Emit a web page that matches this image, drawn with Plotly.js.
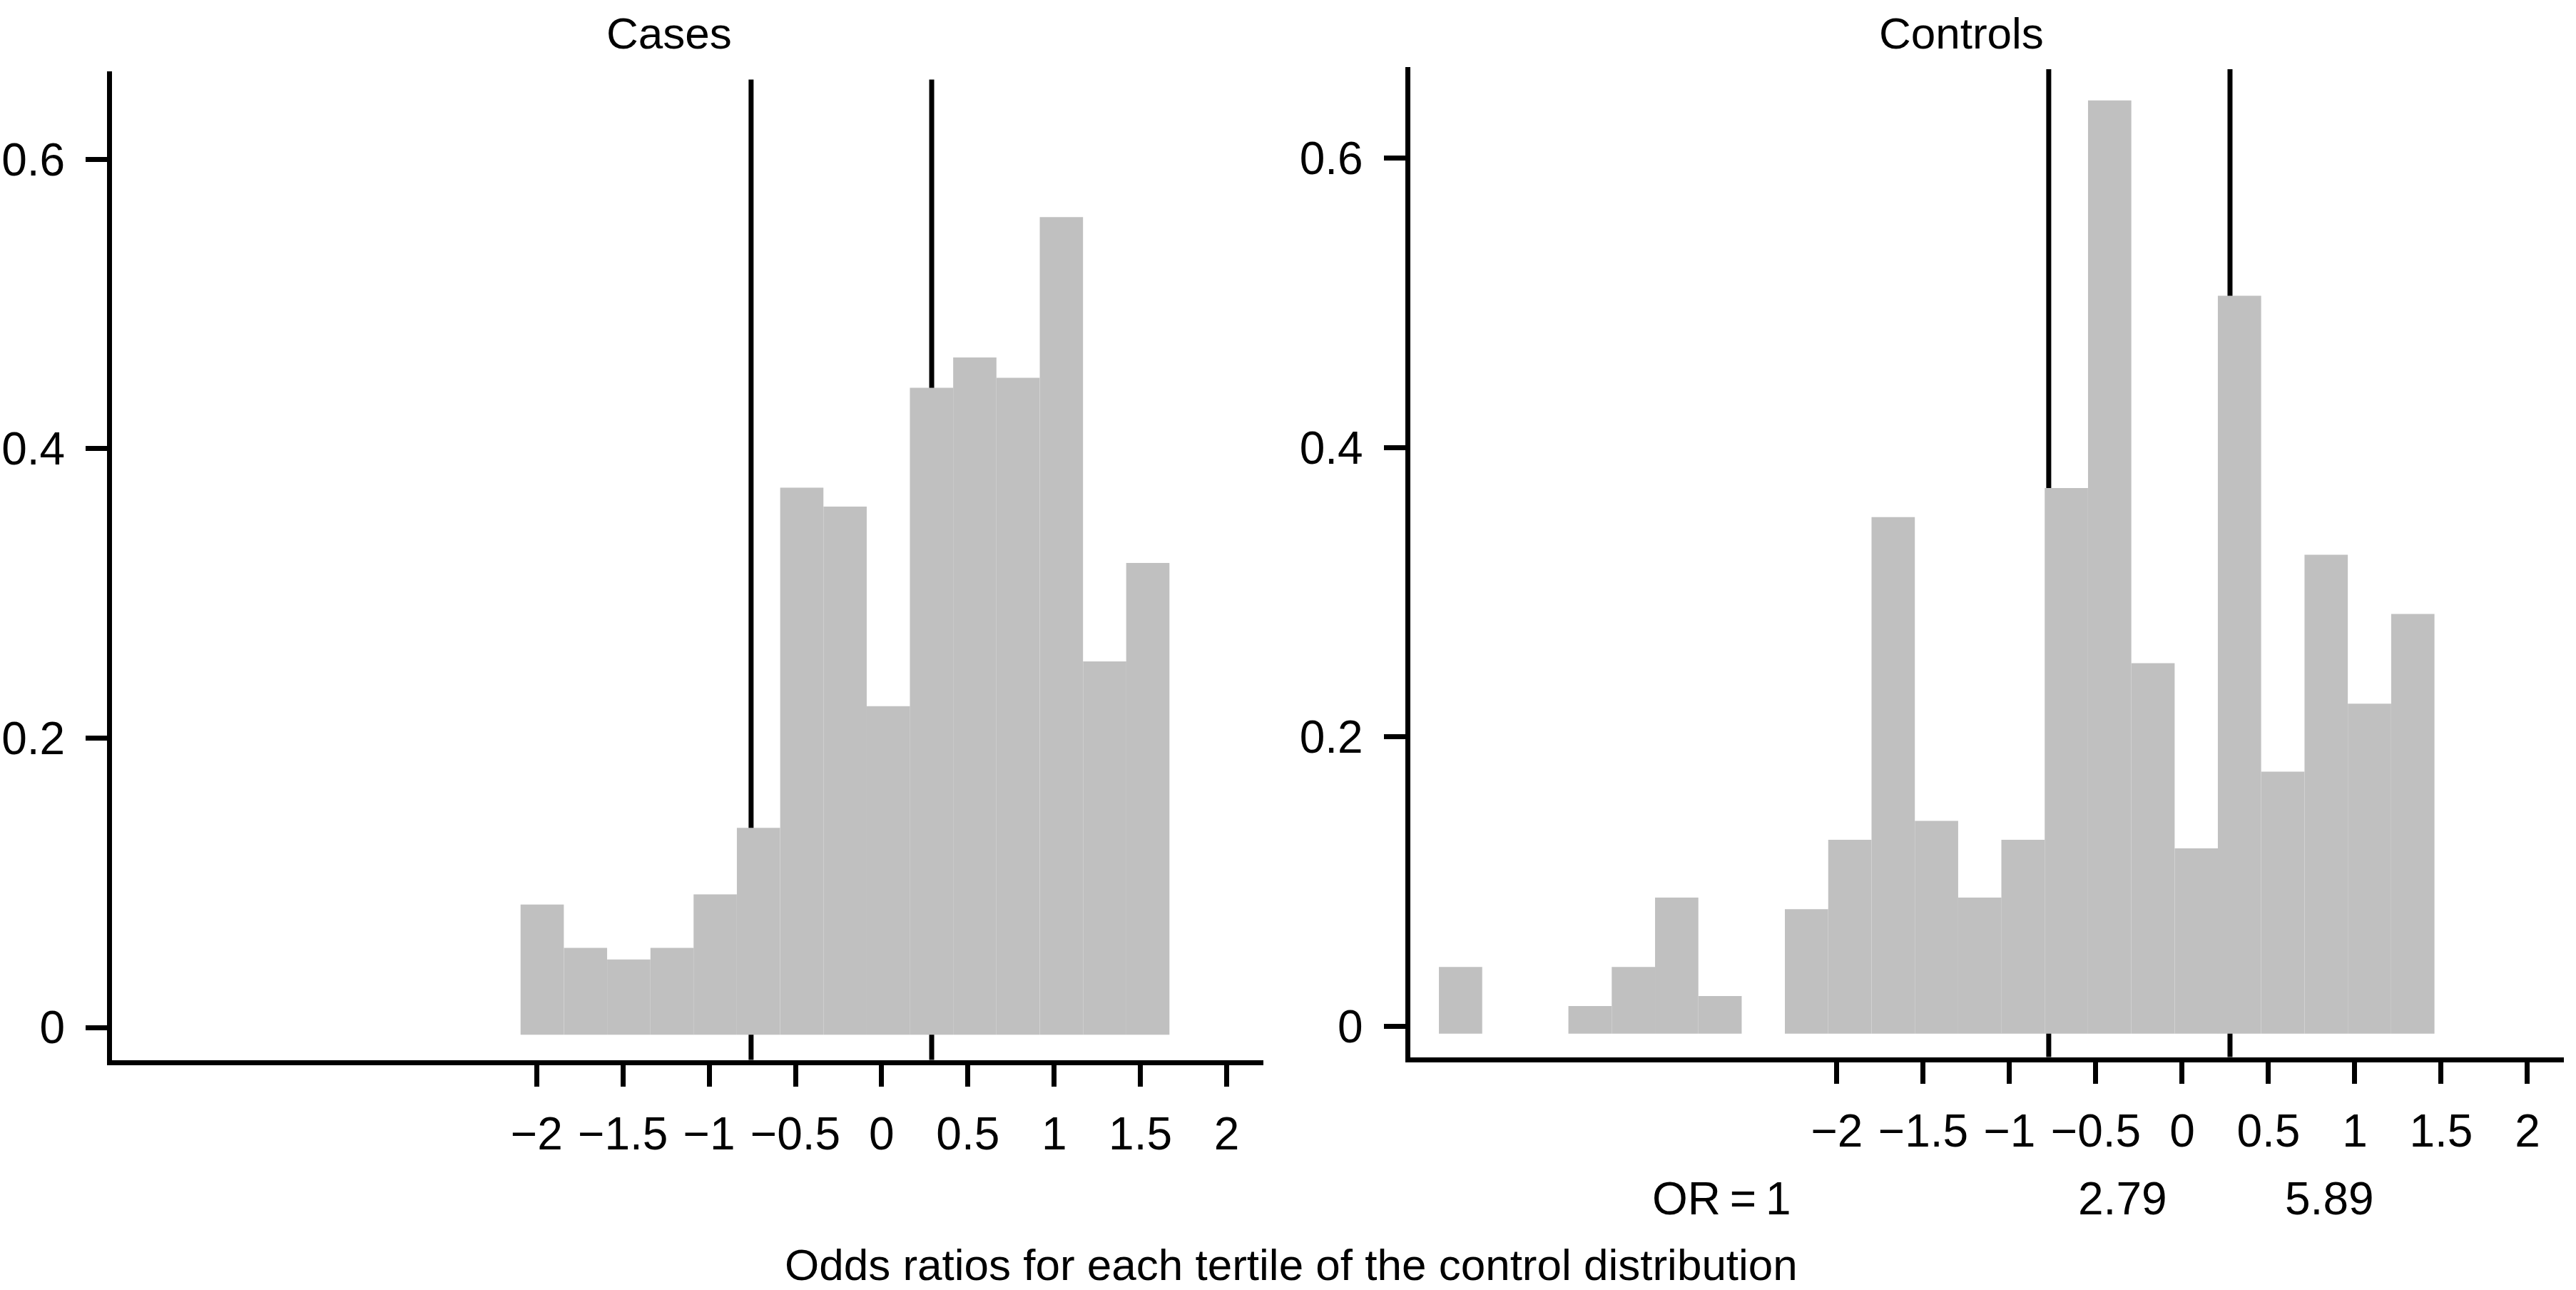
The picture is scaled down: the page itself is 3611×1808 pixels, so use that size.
<!DOCTYPE html>
<html>
<head>
<meta charset="utf-8">
<script src="https://cdn.plot.ly/plotly-3.0.1.min.js"></script>
<style>html,body{margin:0;padding:0;background:#fff;}#chart{width:3611px;height:1808px;}</style>
</head>
<body>
<div id="chart"></div>
<script>
// ---- data ----
const casesBinCentres = [-1.968, -1.717, -1.466, -1.215, -0.965, -0.714, -0.463, -0.212, 0.039, 0.289, 0.540, 0.791, 1.042, 1.293, 1.543];
const casesDensity    = [0.085, 0.055, 0.047, 0.055, 0.092, 0.138, 0.373, 0.360, 0.222, 0.442, 0.463, 0.449, 0.560, 0.253, 0.321];

const controlsBinCentres = [-4.180, -3.430, -3.179, -2.928, -2.677, -2.176, -1.925, -1.674, -1.423, -1.172, -0.922, -0.671, -0.420, -0.169, 0.082, 0.332, 0.583, 0.834, 1.085, 1.336];
const controlsDensity    = [0.041, 0.014, 0.041, 0.089, 0.021, 0.081, 0.129, 0.352, 0.142, 0.089, 0.129, 0.372, 0.640, 0.251, 0.123, 0.505, 0.176, 0.326, 0.223, 0.285];

const casesCuts    = [-0.757, 0.290];
const controlsCuts = [-0.773, 0.277];

const xTickVals   = [-2, -1.5, -1, -0.5, 0, 0.5, 1, 1.5, 2];
const xTickText   = ['\u22122', '\u22121.5', '\u22121', '\u22120.5', '0', '0.5', '1', '1.5', '2'];
const yTickVals   = [0, 0.2, 0.4, 0.6];
const yTickText   = ['0', '0.2', '0.4', '0.6'];

const panelTitles = ['Cases', 'Controls'];
const orLabels    = ['OR\u2009=\u20091', '2.79', '5.89'];
const orLabelX    = [-2.669, -0.345, 0.855];
const xTitle      = 'Odds ratios for each tertile of the control distribution';

// ---- styling ----
const binWidth = 0.2508;
const barBase = -0.005;
const FONT = '"Liberation Sans", Arial, Helvetica, sans-serif';
const FS = 62;
const TFS = 64;
const W = 3611, H = 1808;

function barTrace(x, y, xa, ya) {
  return {
    type: 'bar', x: x, y: y.map(v => v - barBase), base: barBase,
    width: binWidth, xaxis: xa, yaxis: ya,
    marker: {color: '#c0c0c0', line: {width: 0}},
    hovertemplate: '%{x}: %{customdata}<extra></extra>', customdata: y,
    showlegend: false
  };
}

function xAxis(domain, range, anchor) {
  return {
    domain: domain, range: range, anchor: anchor,
    tickmode: 'array', tickvals: xTickVals, ticktext: xTickText,
    ticks: 'outside', ticklen: 30, tickwidth: 7, tickcolor: '#000',
    showline: true, linewidth: 7, linecolor: '#000',
    showgrid: false, zeroline: false,
    tickfont: {family: FONT, size: TFS, color: '#000'},
    ticklabelstandoff: 12, fixedrange: true
  };
}
function yAxis(domain, range, anchor) {
  return {
    domain: domain, range: range, anchor: anchor,
    tickmode: 'array', tickvals: yTickVals, ticktext: yTickText,
    ticks: 'outside', ticklen: 30, tickwidth: 7, tickcolor: '#000',
    showline: true, linewidth: 7, linecolor: '#000',
    showgrid: false, zeroline: false,
    tickfont: {family: FONT, size: TFS, color: '#000'},
    ticklabelstandoff: 16, fixedrange: true
  };
}

function cutShapes(cuts, xref, yref, y0, y1) {
  return cuts.map(c => ({
    type: 'line', layer: 'below', xref: xref, yref: yref,
    x0: c, x1: c, y0: y0, y1: y1,
    line: {color: '#000', width: 7}
  }));
}

const data = [
  barTrace(casesBinCentres, casesDensity, 'x', 'y'),
  barTrace(controlsBinCentres, controlsDensity, 'x2', 'y2')
];

const annotations = [
  {text: panelTitles[0], xref: 'paper', yref: 'paper', x: 937.5 / W, y: 1 - 46 / H, xanchor: 'center', yanchor: 'middle', showarrow: false, font: {family: FONT, size: FS, color: '#000'}},
  {text: panelTitles[1], xref: 'paper', yref: 'paper', x: 2749.5 / W, y: 1 - 46 / H, xanchor: 'center', yanchor: 'middle', showarrow: false, font: {family: FONT, size: FS, color: '#000'}},
  {text: xTitle, xref: 'paper', yref: 'paper', x: 1810 / W, y: 1 - 1772 / H, xanchor: 'center', yanchor: 'middle', showarrow: false, font: {family: FONT, size: FS, color: '#000'}}
].concat(orLabels.map((t, i) => ({
  text: t, xref: 'x2', yref: 'paper', x: orLabelX[i], y: 1 - 1680 / H,
  xanchor: 'center', yanchor: 'middle', showarrow: false,
  font: {family: FONT, size: TFS, color: '#000'}
})));

const layout = {
  width: W, height: H,
  margin: {l: 0, r: 0, t: 0, b: 0, pad: 0},
  paper_bgcolor: '#fff', plot_bgcolor: '#fff',
  showlegend: false,
  xaxis:  xAxis([157 / W, 1771 / W], [-4.462, 2.213], 'y'),
  yaxis:  yAxis([1 - 1485.5 / H, 1 - 100 / H], [-0.0224, 0.6607], 'x'),
  xaxis2: xAxis([1976.5 / W, 3594 / W], [-4.473, 2.211], 'y2'),
  yaxis2: yAxis([1 - 1481.5 / H, 1 - 94 / H], [-0.0212, 0.663], 'x2'),
  shapes: cutShapes(casesCuts, 'x', 'y', -0.026, 0.655)
    .concat(cutShapes(controlsCuts, 'x2', 'y2', -0.025, 0.6615)),
  annotations: annotations
};

Plotly.newPlot('chart', data, layout, {staticPlot: true, displayModeBar: false});
</script>
</body>
</html>
